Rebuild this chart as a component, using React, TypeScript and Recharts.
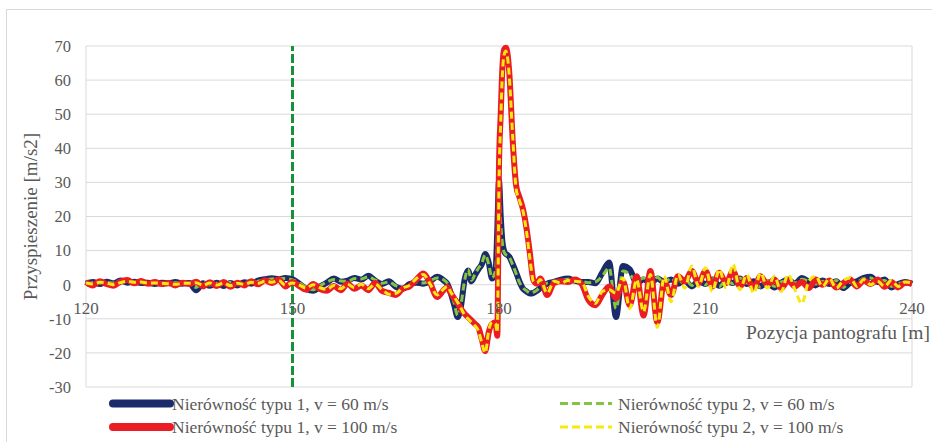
import React from "react";
import {
  CartesianGrid,
  Line,
  LineChart,
  ReferenceDot,
  ReferenceLine,
  XAxis,
  YAxis,
} from "recharts";

// Pozycja pantografu [m]
const XS = [
  120, 121, 122, 123, 124, 125, 126, 127, 128, 129,
  130, 131, 132, 133, 134, 135, 136, 137, 138, 139,
  140, 141, 142, 143, 144, 145, 146, 147, 148, 149,
  150, 151, 152, 153, 154, 155, 156, 157, 158, 159,
  160, 161, 162, 163, 164, 165, 166, 167, 168, 169,
  170, 171, 172, 172.5, 173, 173.5, 174, 174.5, 175, 175.5,
  176, 176.5, 177, 177.5, 178, 178.5, 179, 179.5, 179.75, 180,
  180.25, 180.5, 180.75, 181, 181.25, 181.5, 182, 182.5, 183, 183.5,
  184, 184.5, 185, 185.5, 186, 187, 188, 189, 190, 191,
  192, 193, 194, 195, 196, 197, 198, 199, 200, 201,
  202, 203, 204, 205, 206, 207, 208, 209, 210, 211,
  212, 213, 214, 215, 216, 217, 218, 219, 220, 221,
  222, 223, 224, 225, 226, 227, 228, 229, 230, 231,
  232, 233, 234, 235, 236, 237, 238, 239, 240,
];

// Nierówność typu 1, v = 60 m/s
const TYP1_V60 = [
  0.3, 0.8, 0.2, 0.9, 0.4, 1.2, 0.6, 0.9, 0.5, 0.6,
  0.2, 0.6, 0.4, 0.8, 0.3, 0.5, -1.6, 0.4, -0.3, 0.6,
  -0.4, 0.5, -0.2, 0.7, 0.3, 1.2, 1.6, 1.9, 1.6, 2.0,
  1.6, 0.3, -1.2, -1.8, -0.5, 0.6, 1.8, 0.9, 1.2, 2.0,
  1.5, 2.6, 1.2, 0.2, 1.0, -0.6, -1.2, 0.2, 0.6, 0.3,
  1.0, 2.3, 1.2, 0.2, -2.5, -6.0, -9.5, -6.0, 1.5, 4.2,
  1.0, 2.8, 4.5, 6.0, 9.0, 6.5, 1.8, 4.0, 16.0, 30.5,
  20.0, 12.5, 9.8, 9.0, 8.7, 8.2, 6.0, 3.5, 0.8, -1.2,
  -2.0, -2.6, -2.4, -1.8, -1.0, 0.3, 0.8, 1.5, 1.8, 1.2,
  0.8, 0.8, 0.4, 3.5, 6.5, -9.5, 5.5, 4.5, 0.5, 1.5,
  0.5, 1.8, 0.8, 1.5, 0.3, 1.2, -0.5, 1.0, 0.2, 1.5,
  -0.3, 1.0, 0.5, 1.8, 0.2, 1.0, -0.5, 0.8, -0.8, 0.6,
  1.5, 0.3, 2.0, 0.8, -0.2, 1.2, 0.2, 1.0, -1.0, 0.5,
  1.0, 2.0, 2.3, 0.8, 1.5, -0.8, 0.2, 0.8, 0.2,
];

// Nierówność typu 2, v = 60 m/s
const TYP2_V60 = [
  0.5, 0.6, 0.4, 0.7, 0.5, 1.0, 0.8, 0.7, 0.6, 0.4,
  0.4, 0.5, 0.6, 0.6, 0.5, 0.3, -0.8, 0.6, -0.1, 0.4,
  -0.2, 0.7, 0.0, 0.5, 0.5, 1.0, 1.4, 1.7, 1.8, 1.8,
  1.4, 0.5, -0.8, -1.5, -0.3, 0.8, 1.5, 1.1, 1.0, 1.8,
  1.7, 2.3, 1.4, 0.4, 0.8, -0.3, -1.0, 0.0, 0.8, 0.5,
  1.2, 2.0, 1.4, 0.4, -2.0, -5.5, -9.0, -5.5, 1.2, 4.5,
  1.3, 3.0, 4.8, 6.3, 8.8, 6.0, 2.0, 4.5, 14.0, 27.0,
  18.0, 12.0, 9.5, 8.8, 8.5, 8.0, 5.8, 3.2, 0.6, -1.0,
  -1.8, -2.4, -2.2, -1.6, -0.8, 0.5, 1.0, 1.2, 1.6, 1.4,
  1.0, 0.6, 0.8, 2.5, 5.0, -7.0, 4.0, 3.0, 1.0, 2.0,
  0.2, 2.2, 0.5, 2.0, 0.0, 1.8, -0.2, 1.5, 0.0, 2.0,
  -0.5, 1.3, 0.3, 2.0, 0.5, 0.8, -0.8, 1.2, -0.5, 0.8,
  1.2, 0.5, 1.6, 1.0, 0.2, 1.0, 0.4, 1.2, -0.8, 0.7,
  0.8, 1.8, 2.0, 1.0, 1.2, -0.5, 0.4, 0.6, 0.4,
];

// Nierówność typu 1, v = 100 m/s
const TYP1_V100 = [
  0.8, -0.2, 1.0, 0.2, -0.3, 0.9, 1.4, 0.4, 1.1, 0.3,
  0.8, 0.2, 0.5, -0.2, 0.6, 0.2, 0.9, -0.5, 0.7, -0.4,
  0.8, -0.6, 0.6, -0.2, 1.0, 0.1, 1.3, 0.5, 1.5, -0.5,
  0.8, -0.4, -1.5, 0.2, -1.3, -1.8, -0.4, -1.6, 0.3, -1.2,
  -0.2, -1.6, 0.5, -1.8, -2.4, -3.0, -1.2, -0.5, 1.5, 3.3,
  0.5, -3.6, -1.5, -0.7, -2.5, -4.0, -5.5, -7.2, -8.5, -9.5,
  -10.5, -11.5, -12.5, -16.0, -19.5, -14.0, -11.5, -11.0, -15.0, 35.0,
  50.0, 64.0, 69.0, 69.5, 67.5, 62.0, 42.0, 29.0, 25.5, 22.0,
  16.5, 9.0, 1.3, 0.3, 1.8, -3.0, 0.5, 1.0, 0.8, 1.5,
  0.2, -4.5, -6.0, -3.0, -0.5, -4.0, 1.0, -6.0, 2.5, -9.0,
  4.0, -11.0, 1.0, -3.0, 2.5, 1.0, 4.0, 0.5, 4.0, -0.5,
  3.5, 0.5, 4.0, -0.5, 2.0, -1.0, 2.5, 0.0, 1.5, -1.0,
  1.2, -0.5, 0.8, -1.0, 1.5, 0.0, 1.2, -0.8, 0.5, 1.5,
  -0.5, 1.2, 0.2, 1.5, -0.6, 0.8, -0.8, 0.6, 0.4,
];

// Nierówność typu 2, v = 100 m/s
const TYP2_V100 = [
  0.5, 0.2, 0.7, 0.5, 0.0, 0.6, 1.0, 0.7, 0.8, 0.5,
  0.5, 0.4, 0.3, 0.1, 0.4, 0.4, 0.6, -0.2, 0.5, -0.1,
  0.5, -0.3, 0.4, 0.1, 0.7, 0.4, 1.0, 0.7, 1.2, -0.2,
  0.5, -0.1, -1.0, 0.0, -0.9, -1.4, -0.2, -1.2, 0.1, -0.8,
  0.1, -1.2, 0.2, -1.4, -2.8, -2.6, -1.0, -0.2, 1.8, 3.0,
  0.2, -3.0, -1.2, -0.5, -2.2, -3.6, -5.2, -7.0, -8.8, -10.0,
  -11.0, -12.0, -13.5, -17.0, -20.0, -13.5, -11.0, -11.5, -14.0, 30.0,
  48.0, 62.0, 67.5, 68.5, 66.5, 61.0, 43.0, 28.0, 24.5, 21.5,
  15.5, 7.5, 1.0, 0.5, 1.5, -2.5, 1.0, 0.5, 1.2, 1.0,
  0.8, -3.5, -5.5, -2.0, -1.5, -2.5, 2.0, -7.0, 1.5, -8.0,
  3.0, -12.5, 2.5, -5.0, 3.0, -1.0, 5.5, -0.5, 5.0, -2.0,
  4.5, -1.0, 6.0, -1.5, 3.0, -2.5, 3.5, -1.0, 2.5, -2.0,
  3.0, -1.5, -5.5, 1.0, 2.5, -0.5, 1.8, -1.0, 1.2, 2.0,
  -0.5, 1.5, 0.0, 1.0, -0.5, 1.2, -0.5, 0.8, 0.5,
];

const X_TICKS = [120, 150, 180, 210, 240];
const Y_TICKS = [-30, -20, -10, 0, 10, 20, 30, 40, 50, 60, 70];
const MARKER_X = 150;

const FONT = '"Liberation Serif", "Times New Roman", serif';
const TEXT = "#595959";
const NAVY = "#1b2a6b";
const RED = "#ec1c24";
const GREEN = "#84c441";
const YELLOW = "#f5e90f";

const data = XS.map((x, i) => ({
  x,
  t1v60: TYP1_V60[i],
  t2v60: TYP2_V60[i],
  t1v100: TYP1_V100[i],
  t2v100: TYP2_V100[i],
}));

const legendItems = [
  { label: "Nierówność typu 1, v = 60 m/s", color: NAVY, dashed: false, col: 0, row: 0 },
  { label: "Nierówność typu 1, v = 100 m/s", color: RED, dashed: false, col: 0, row: 1 },
  { label: "Nierówność typu 2, v = 60 m/s", color: GREEN, dashed: true, col: 1, row: 0 },
  { label: "Nierówność typu 2, v = 100 m/s", color: YELLOW, dashed: true, col: 1, row: 1 },
];

function Overlay() {
  return (
    <svg
      width={932}
      height={442}
      style={{ position: "absolute", left: 0, top: 0, pointerEvents: "none" }}
    >
      <text x={930} y={339} textAnchor="end" fontSize={19.5} fill={TEXT} fontFamily={FONT}>
        Pozycja pantografu [m]
      </text>
      {legendItems.map((item) => {
        const y = 403.5 + item.row * 23.5;
        const x0 = item.col === 0 ? 113 : 560;
        const x1 = item.col === 0 ? 170 : 612;
        const tx = item.col === 0 ? 172 : 618;
        return (
          <g key={item.label}>
            <line
              x1={x0}
              x2={x1}
              y1={y}
              y2={y}
              stroke={item.color}
              strokeWidth={item.dashed ? 3 : 8}
              strokeLinecap={item.dashed ? "butt" : "round"}
              strokeDasharray={item.dashed ? "8 4" : undefined}
            />
            <text x={tx} y={y + 6} fontSize={17.5} fill={TEXT} fontFamily={FONT}>
              {item.label}
            </text>
          </g>
        );
      })}
    </svg>
  );
}

export default function App() {
  return (
    <div
      style={{
        position: "absolute",
        left: 0,
        top: 0,
        width: 932,
        height: 442,
        background: "#fff",
        overflow: "hidden",
      }}
    >
      <div
        style={{
          position: "absolute",
          left: 6,
          top: 9,
          width: 940,
          height: 460,
          border: "1px solid #d9d9d9",
        }}
      />
      <LineChart
        width={932}
        height={442}
        data={data}
        margin={{ top: 46, right: 20, bottom: 55, left: 26 }}
      >
        <CartesianGrid stroke="#d9d9d9" strokeWidth={1} />
        <XAxis
          dataKey="x"
          type="number"
          domain={[120, 240]}
          ticks={X_TICKS}
          tick={false}
          tickLine={false}
          axisLine={false}
          height={0}
        />
        <YAxis
          domain={[-30, 70]}
          ticks={Y_TICKS}
          width={60}
          axisLine={false}
          tickLine={false}
          tickSize={0}
          tickMargin={15}
          tick={{ fill: TEXT, fontSize: 16.5, fontFamily: FONT }}
          label={{
            value: "Przyspieszenie [m/s2]",
            angle: -90,
            position: "insideLeft",
            offset: 4,
            style: { textAnchor: "middle", fill: TEXT, fontSize: 19, fontFamily: FONT },
          }}
        />
        <ReferenceLine
          x={MARKER_X}
          stroke="#1a8f3c"
          strokeWidth={3}
          strokeDasharray="9 3"
        />
        {X_TICKS.map((t) => (
          <ReferenceDot
            key={t}
            x={t}
            y={0}
            r={0}
            fill="none"
            stroke="none"
            label={{
              value: String(t),
              position: "bottom",
              offset: 17,
              fill: TEXT,
              fontSize: 17,
              fontFamily: FONT,
            }}
          />
        ))}
        <Line
          type="monotone"
          dataKey="t1v60"
          stroke={NAVY}
          strokeWidth={6}
          dot={false}
          isAnimationActive={false}
        />
        <Line
          type="monotone"
          dataKey="t2v60"
          stroke={GREEN}
          strokeWidth={3}
          strokeDasharray="7 4"
          dot={false}
          isAnimationActive={false}
        />
        <Line
          type="monotone"
          dataKey="t1v100"
          stroke={RED}
          strokeWidth={6}
          dot={false}
          isAnimationActive={false}
        />
        <Line
          type="monotone"
          dataKey="t2v100"
          stroke={YELLOW}
          strokeWidth={3}
          strokeDasharray="7 4"
          dot={false}
          isAnimationActive={false}
        />
      </LineChart>
      <Overlay />
    </div>
  );
}
